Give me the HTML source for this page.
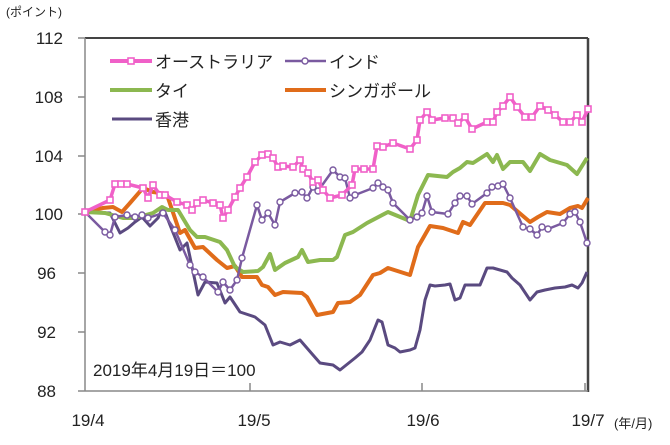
<!DOCTYPE html>
<html><head><meta charset="utf-8"><style>
body{margin:0;background:#fff;}
svg text{font-family:"Liberation Sans","Noto Sans CJK JP",sans-serif;fill:#222;}
</style></head><body>
<svg width="670" height="440" viewBox="0 0 670 440" xmlns="http://www.w3.org/2000/svg">
<defs>
<marker id="sq" viewBox="0 0 8 8" refX="4" refY="4" markerWidth="8" markerHeight="8" markerUnits="userSpaceOnUse"><rect x="1" y="1" width="6" height="6" fill="#fff" stroke="#f060c8" stroke-width="1.6"/></marker>
<marker id="ci" viewBox="0 0 8 8" refX="4" refY="4" markerWidth="8" markerHeight="8" markerUnits="userSpaceOnUse"><circle cx="4" cy="4" r="3" fill="#fff" stroke="#7a5aa0" stroke-width="1.4"/></marker>
</defs>
<!-- frame -->
<line x1="85" y1="38" x2="588" y2="38" stroke="#444" stroke-width="2"/>
<line x1="588" y1="38" x2="588" y2="392" stroke="#444" stroke-width="2.5"/>
<line x1="85" y1="38" x2="85" y2="391" stroke="#888" stroke-width="1.5"/>
<line x1="85" y1="391" x2="588" y2="391" stroke="#888" stroke-width="1.5"/>
<g stroke="#888" stroke-width="1.5">
<line x1="78" y1="38" x2="85" y2="38"/><line x1="78" y1="97" x2="85" y2="97"/><line x1="78" y1="156" x2="85" y2="156"/><line x1="78" y1="214" x2="85" y2="214"/><line x1="78" y1="273" x2="85" y2="273"/><line x1="78" y1="332" x2="85" y2="332"/><line x1="78" y1="391" x2="85" y2="391"/>
<line x1="250" y1="383" x2="250" y2="391"/><line x1="422" y1="383" x2="422" y2="391"/><line x1="585" y1="383" x2="585" y2="391"/>
</g>
<g font-size="17" text-anchor="end">
<text x="63" y="44">112</text><text x="63" y="103">108</text><text x="63" y="162">104</text><text x="63" y="220">100</text><text x="56" y="279">96</text><text x="56" y="338">92</text><text x="56" y="397">88</text>
</g>
<text x="6" y="16" font-size="12">(ポイント)</text>
<g font-size="17" text-anchor="middle">
<text x="88" y="426">19/4</text><text x="254" y="426">19/5</text><text x="423" y="426">19/6</text><text x="588" y="426">19/7</text>
</g>
<text x="614" y="428" font-size="13">(年/月)</text>
<text x="93" y="376" font-size="17">2019年4月19日＝100</text>

<!-- Hong Kong -->
<polyline fill="none" stroke="#5a4a80" stroke-width="3" stroke-linejoin="round" points="85,212 110,213 120,233 128,228 135,222 142,217 150,226 158,218 163,207 170,225 180,250 187,243 198,295 205,282 217,283 225,303 230,297 240,312 255,317 265,325 273,345 280,342 290,345 300,340 313,355 320,363 333,365 340,370 350,362 355,358 362,352 370,340 378,320 382,322 388,345 395,348 400,352 410,350 415,348 420,330 425,300 430,285 435,286 445,285 450,284 455,300 460,298 465,285 470,285 480,285 487,268 493,268 500,270 507,272 512,278 520,285 530,300 537,292 545,290 555,288 565,287 572,285 578,288 582,283 587,272"/>
<!-- Singapore -->
<polyline fill="none" stroke="#e06c1a" stroke-width="4" stroke-linejoin="round" points="85,212 103,208 113,207 122,212 130,203 143,188 153,192 160,193 167,195 180,233 185,230 195,248 203,247 217,260 227,268 235,266 242,277 257,277 262,285 268,287 275,295 283,292 302,293 307,297 317,315 333,312 338,303 350,302 360,295 373,275 380,273 388,268 410,275 418,247 430,226 443,228 458,233 463,222 470,225 485,203 497,203 503,203 510,205 530,222 538,217 547,212 560,214 570,208 578,206 582,208 588,198"/>
<!-- Thai -->
<polyline fill="none" stroke="#8cb850" stroke-width="4" stroke-linejoin="round" points="85,212 105,213 123,218 135,218 153,213 162,207 168,210 178,210 190,230 197,237 205,237 220,242 227,250 235,267 243,272 258,271 263,267 270,254 275,270 285,263 298,257 302,250 308,262 320,260 333,260 337,257 345,235 353,232 367,223 388,212 410,221 418,195 428,175 447,177 453,172 460,168 467,162 473,163 487,154 493,162 497,155 503,169 510,162 523,162 530,171 540,154 550,160 567,165 577,174 587,158"/>
<!-- India -->
<polyline fill="none" stroke="#7a5aa0" stroke-width="2.5" stroke-linejoin="round" marker-start="url(#ci)" marker-mid="url(#ci)" marker-end="url(#ci)" points="85,212 105,232 110,235 115,217 127,215 135,217 142,215 148,218 163,213 175,230 190,265 195,272 203,277 218,292 223,282 230,290 237,280 242,258 257,205 262,220 268,213 275,225 280,202 295,193 302,192 307,198 313,187 318,191 333,170 340,177 345,178 350,198 355,195 373,188 378,183 383,187 388,190 393,203 410,220 417,217 422,213 427,196 432,212 448,214 455,203 460,196 467,196 472,204 487,193 492,187 498,186 503,184 510,198 523,227 530,229 537,235 542,227 548,229 563,223 570,214 575,212 580,222 587,243"/>
<!-- Australia -->
<polyline fill="none" stroke="#f060c8" stroke-width="3.5" stroke-linejoin="round" marker-start="url(#sq)" marker-mid="url(#sq)" marker-end="url(#sq)" points="85,212 110,200 115,184 121,184 127,184 143,188 148,198 153,185 160,195 165,195 177,202 187,205 192,210 197,203 203,200 213,203 220,205 223,218 228,210 235,197 240,188 247,177 255,162 262,155 268,154 273,158 278,167 283,166 293,167 300,160 303,169 308,173 313,182 318,180 323,190 330,198 342,195 352,185 355,169 364,169 373,169 377,146 383,147 393,143 410,149 417,140 420,120 427,112 432,120 445,118 453,118 458,123 465,117 472,129 487,122 493,122 497,112 503,106 510,97 517,107 525,117 532,117 540,106 548,110 555,115 563,122 570,122 577,115 582,122 588,109"/>

<!-- legend -->
<line x1="110" y1="61" x2="152" y2="61" stroke="#f060c8" stroke-width="4"/>
<rect x="128" y="58" width="6" height="6" fill="#fff" stroke="#f060c8" stroke-width="1.6"/>
<text x="155" y="68" font-size="17">オーストラリア</text>
<line x1="285" y1="61" x2="326" y2="61" stroke="#7a5aa0" stroke-width="2.5"/>
<circle cx="305" cy="61" r="3" fill="#fff" stroke="#7a5aa0" stroke-width="1.4"/>
<text x="329" y="68" font-size="17">インド</text>
<line x1="110" y1="90" x2="152" y2="90" stroke="#8cb850" stroke-width="4"/>
<text x="155" y="97" font-size="17">タイ</text>
<line x1="285" y1="90" x2="326" y2="90" stroke="#e06c1a" stroke-width="4"/>
<text x="329" y="97" font-size="17">シンガポール</text>
<line x1="112" y1="119" x2="152" y2="119" stroke="#5a4a80" stroke-width="3"/>
<text x="155" y="126" font-size="17">香港</text>
</svg>
</body></html>
